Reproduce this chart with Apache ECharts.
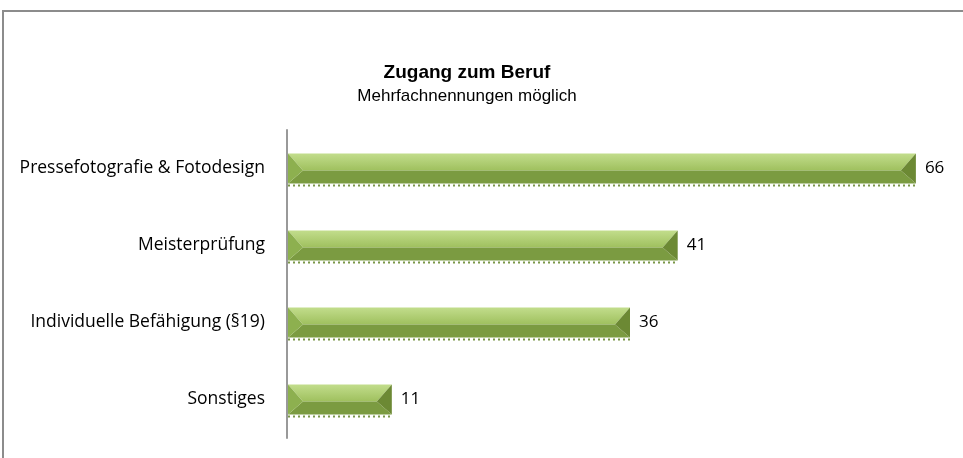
<!DOCTYPE html>
<html>
<head>
<meta charset="utf-8">
<script src="https://cdn.jsdelivr.net/npm/echarts@6/dist/echarts.min.js"></script>
<style>
  html, body { margin: 0; padding: 0; background: #fff; }
  #chart { width: 963px; height: 458px; }
</style>
</head>
<body>
<div id="chart"></div>
<script>
const categories = ['Pressefotografie & Fotodesign', 'Meisterprüfung', 'Individuelle Befähigung (§19)', 'Sonstiges']
const values = [66, 41, 36, 11]

const chart = echarts.init(document.getElementById('chart'))

// bevelled bar: top/bottom facets plus left/right triangles
const renderBevelBar = (params, api) => {
  const idx = api.value(0)
  const val = api.value(1)
  const start = api.coord([0, idx])
  const end = api.coord([val, idx])
  const h = 30
  const x0 = start[0] + 1
  const x1 = end[0]
  const yt = start[1] - h / 2
  const yb = start[1] + h / 2
  const ym = start[1] + 2
  const b = 15
  return {
    type: 'group',
    children: [
      {
        type: 'polygon',
        shape: { points: [[x0, yt], [x1, yt], [x1 - b, ym], [x0 + b, ym]] },
        style: {
          fill: new echarts.graphic.LinearGradient(0, 0, 0, 1, [
            { offset: 0, color: '#c2dd8c' },
            { offset: 1, color: '#9fc05e' }
          ])
        }
      },
      {
        type: 'polygon',
        shape: { points: [[x0 + b, ym], [x1 - b, ym], [x1, yb], [x0, yb]] },
        style: { fill: '#7b9b41' }
      },
      {
        type: 'polygon',
        shape: { points: [[x0, yt], [x0 + b, ym], [x0, yb]] },
        style: { fill: '#8db04f' }
      },
      {
        type: 'polygon',
        shape: { points: [[x1, yt], [x1 - b, ym], [x1, yb]] },
        style: { fill: '#6c8934' }
      },
      {
        type: 'line',
        shape: { x1: x0, y1: yb + 2, x2: x1, y2: yb + 2 },
        style: { stroke: '#7a9648', lineWidth: 2, lineDash: [2, 3] }
      },
      {
        type: 'text',
        style: {
          text: String(val),
          x: x1 + 9,
          y: start[1],
          verticalAlign: 'middle',
          fill: '#000',
          font: '17px "Open Sans"'
        }
      }
    ]
  }
}

const option = {
  animation: false,
  graphic: [
    {
      type: 'rect',
      shape: { x: 3, y: 11, width: 1000, height: 500 },
      style: { fill: 'none', stroke: '#8c8c8c', lineWidth: 2 },
      z: -1
    }
  ],
  title: {
    text: 'Zugang zum Beruf',
    subtext: 'Mehrfachnennungen möglich',
    left: 462,
    textAlign: 'center',
    top: 58,
    itemGap: 6,
    textStyle: {
      fontFamily: 'Liberation Sans',
      fontWeight: 'bold',
      fontSize: 19,
      color: '#000'
    },
    subtextStyle: {
      fontFamily: 'Liberation Sans',
      fontSize: 17,
      color: '#000'
    }
  },
  grid: {
    left: 287,
    top: 130,
    width: 667,
    height: 308
  },
  xAxis: {
    type: 'value',
    min: 0,
    max: 70,
    show: false
  },
  yAxis: {
    type: 'category',
    data: categories,
    inverse: true,
    axisLine: { lineStyle: { color: '#999', width: 2 } },
    axisTick: { show: false },
    axisLabel: {
      margin: 22,
      fontFamily: 'Open Sans',
      fontSize: 17.5,
      color: '#000'
    }
  },
  series: [
    {
      type: 'custom',
      renderItem: renderBevelBar,
      encode: { x: 1, y: 0 },
      data: values.map((v, i) => [i, v])
    }
  ]
}

chart.setOption(option)
</script>
</body>
</html>
